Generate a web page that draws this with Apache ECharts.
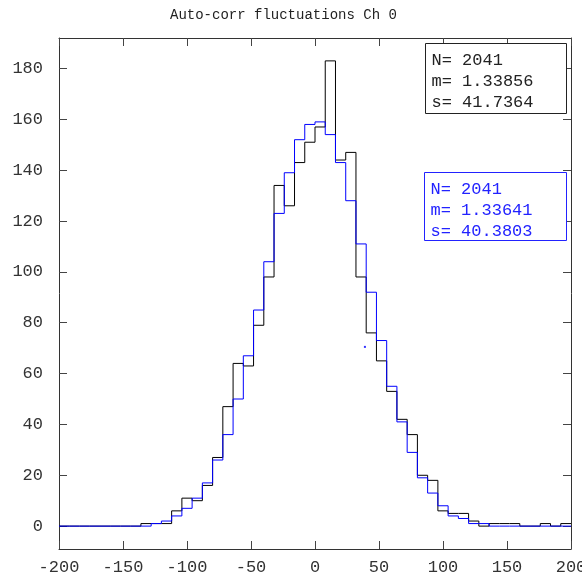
<!DOCTYPE html>
<html>
<head>
<meta charset="utf-8">
<script src="https://cdn.jsdelivr.net/npm/echarts@6/dist/echarts.min.js"></script>
<style>
html,body{margin:0;padding:0;background:#fff;}
#chart{width:582px;height:581px;}
</style>
</head>
<body>
<div id="chart"></div>
<script>
// bin starts: -200 .. 192, width 8
const binWidth = 8;
const binStart = -200;
const blackCounts = [0,0,0,0,0,0,0, 0,1,1,1,6,11,10,16,27,47,64,63,79,98,134,126,143,151,157,183,144,147,98,76,65,53,42,36,20,18,6,5,5,2,0,1,1,1,0,0,1,0,1];
const blueCounts  = [0,0,0,0,0,0,0, 0,0,1,2,4,7,11,17,26,36,50,67,85,104,123,139,152,158,159,154,143,128,111,92,73,55,41,29,19,13,8,4,3,1,1,0,0,0,0,0,0,0,0];
const strayPoint = [[39, 70.5]];
const yTicks = [0,20,40,60,80,100,120,140,160,180];
const titleText = 'Auto-corr fluctuations Ch 0';
const blackStats = ['N= 2041', 'm= 1.33856', 's= 41.7364'];
const blueStats  = ['N= 2041', 'm= 1.33641', 's= 40.3803'];

function stepData(counts){
  const d = counts.map((v,i)=>[binStart + i*binWidth, v]);
  d.push([binStart + counts.length*binWidth, counts[counts.length-1]]);
  return d;
}

const FONT = '"Liberation Mono", "Courier New", monospace';
const chart = echarts.init(document.getElementById('chart'), null, {renderer:'canvas'});

function statsGraphic(lines, color, x, y, w, h, lineYs){
  const els = [{
    type:'rect', shape:{x:x, y:y, width:w, height:h},
    style:{fill:'#fff', stroke:color, lineWidth:1}, z:100
  }];
  lines.forEach((t,i)=>{
    els.push({type:'text', x:x+6, y:lineYs[i], z:101,
      style:{text:t, fill:color, font:'17px ' + FONT, textVerticalAlign:'middle', textAlign:'left'}});
  });
  return els;
}

const axisCol = '#333';
const option = {
  animation:false,
  backgroundColor:'#fff',
  title:{text:titleText, left:165, top:3,
    textStyle:{fontFamily:FONT, fontSize:14, fontWeight:'normal', color:'#222'}},
  grid:{left:59, right:11, top:38, bottom:32, containLabel:false, outerBoundsMode:'none'},
  xAxis:[{
    type:'value', min:-200, max:200, interval:50, position:'bottom',
    axisLine:{show:true, onZero:false, lineStyle:{color:axisCol, width:1}},
    axisTick:{show:true, inside:true, length:8, lineStyle:{color:'#444'}},
    axisLabel:{show:true, margin:10, color:'#333', fontFamily:FONT, fontSize:17, showMinLabel:true, showMaxLabel:true},
    splitLine:{show:false}
  },{
    type:'value', min:-200, max:200, interval:50, position:'top',
    axisLine:{show:true, onZero:false, lineStyle:{color:axisCol, width:1}},
    axisTick:{show:true, inside:true, length:8, lineStyle:{color:'#444'}},
    axisLabel:{show:false}, splitLine:{show:false}
  }],
  yAxis:[{
    type:'value', min:-9, max:192, position:'left',
    axisLine:{show:true, onZero:false, lineStyle:{color:axisCol, width:1}},
    axisTick:{show:true, inside:true, length:8, customValues:yTicks, lineStyle:{color:'#444'}},
    axisLabel:{show:true, margin:16, customValues:yTicks, color:'#333', fontFamily:FONT, fontSize:17},
    splitLine:{show:false}
  },{
    type:'value', min:-9, max:192, position:'right',
    axisLine:{show:true, onZero:false, lineStyle:{color:axisCol, width:1}},
    axisTick:{show:true, inside:true, length:8, customValues:yTicks, lineStyle:{color:'#444'}},
    axisLabel:{show:false}, splitLine:{show:false}
  }],
  series:[{
    type:'line', name:'h0', step:'end', data:stepData(blackCounts),
    xAxisIndex:0, yAxisIndex:0, showSymbol:false, symbol:'none',
    lineStyle:{color:'#000', width:1}, z:2, silent:true
  },{
    type:'line', name:'h1', step:'end', data:stepData(blueCounts),
    xAxisIndex:0, yAxisIndex:0, showSymbol:false, symbol:'none',
    lineStyle:{color:'#0000ff', width:1}, z:3, silent:true
  },{
    type:'scatter', data:strayPoint, symbol:'rect', symbolSize:2,
    itemStyle:{color:'#0000ff'}, z:4, silent:true
  }],
  graphic: [
    ...statsGraphic(blackStats, '#222', 425.5, 43.5, 141, 70, [60, 81, 102]),
    ...statsGraphic(blueStats, '#2222ff', 424.5, 172.5, 142, 68, [189, 210, 231])
  ]
};
chart.setOption(option);
</script>
</body>
</html>
